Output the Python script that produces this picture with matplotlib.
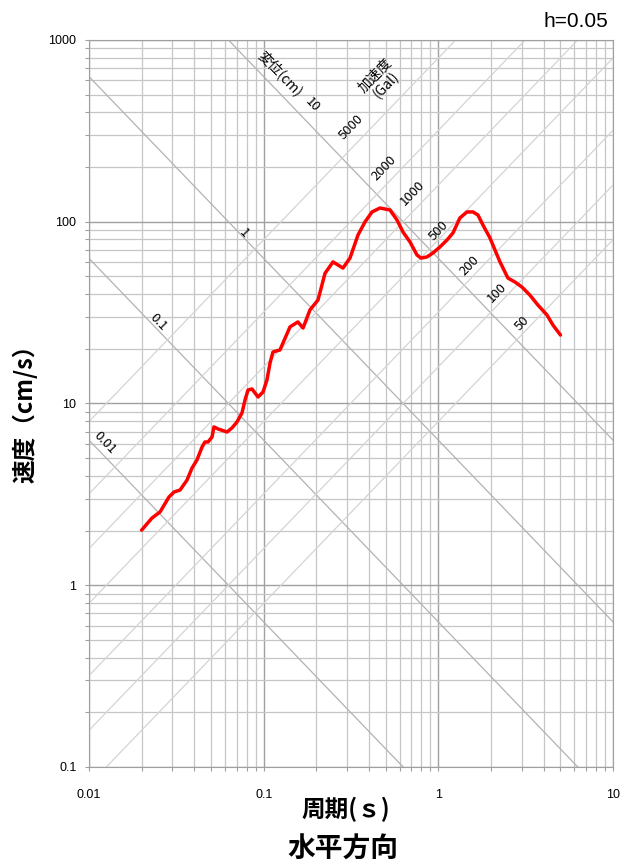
import numpy as np
import matplotlib
matplotlib.use('Agg')
import matplotlib.pyplot as plt
from matplotlib.ticker import NullFormatter

plt.rcParams['font.family'] = ['Noto Sans CJK JP', 'DejaVu Sans']

# velocity response spectrum, h=0.05 (period s, velocity cm/s)
period = [0.020, 0.0229, 0.0255, 0.0287, 0.0307, 0.0332, 0.0364, 0.0389,
          0.0415, 0.0444, 0.0461, 0.048, 0.0506, 0.0519, 0.0548, 0.0617,
          0.0658, 0.0703, 0.0751, 0.0782, 0.0813, 0.0857, 0.0928, 0.0991,
          0.1044, 0.1087, 0.113, 0.1239, 0.1415, 0.157, 0.168, 0.184,
          0.2046, 0.2244, 0.2493, 0.2844, 0.3119, 0.3467, 0.380, 0.417,
          0.4634, 0.5284, 0.5794, 0.6272, 0.688, 0.7544, 0.7947, 0.86,
          0.931, 1.021, 1.12, 1.212, 1.329, 1.458, 1.578, 1.685, 1.80,
          1.975, 2.109, 2.253, 2.405, 2.50, 2.743, 3.01, 3.34, 3.715,
          4.184, 4.53, 5.0]
velocity = [2.01, 2.34, 2.53, 3.06, 3.26, 3.34, 3.79, 4.42,
            4.89, 5.77, 6.14, 6.14, 6.54, 7.43, 7.24, 6.97,
            7.33, 7.91, 8.87, 10.45, 11.86, 12.02, 10.86, 11.56,
            13.47, 16.7, 19.2, 19.7, 26.4, 28.1, 26.0, 32.7,
            37.1, 52.0, 60.1, 55.6, 63.1, 84.5, 99.7, 113.2,
            119.0, 116.0, 102.3, 87.8, 77.4, 65.6, 63.1, 64.0,
            67.3, 72.6, 79.3, 86.7, 104.9, 113.2, 113.2, 108.9, 95.9,
            81.4, 69.9, 60.1, 52.9, 49.0, 46.6, 43.7, 39.5, 34.8,
            30.7, 27.0, 23.8]

# tripartite guide lines
disp_levels = [0.01, 0.1, 1, 10]                       # cm
accel_levels = [50, 100, 200, 500, 1000, 2000, 5000]   # Gal

disp_labels = ['0.01', '0.1', '1', '10']
accel_labels = ['50', '100', '200', '500', '1000', '2000', '5000']

# where the guide-line labels sit (period, velocity)
disp_label_pos = [(0.01235, 6.06), (0.0248, 28.1), (0.0771, 86.7), (0.189, 439)]
accel_label_pos = [(3.01, 27.7), (2.165, 40.5), (1.517, 57.1), (1.008, 88.9),
                   (0.706, 143.9), (0.488, 197.6), (0.316, 332)]

fig = plt.figure(figsize=(6.23, 8.65), dpi=100)
ax = fig.add_axes([0.1429, 0.1133, 0.8411, 0.8405])

t_line = np.array([0.001, 100.0])
for d in disp_levels:
    ax.plot(t_line, 2 * np.pi * d / t_line, color='#b2b2b2', lw=0.9, zorder=2)
for a in accel_levels:
    ax.plot(t_line, a * t_line / (2 * np.pi), color='#d4d4d4', lw=0.9, zorder=2)

ax.plot(period, velocity, color='red', lw=2.5, zorder=5,
        solid_joinstyle='round', solid_capstyle='round')

ax.set_xscale('log')
ax.set_yscale('log')
ax.set_xlim(0.01, 10)
ax.set_ylim(0.1, 1000)

ax.grid(which='major', color='#a0a0a0', lw=1.0, zorder=1)
ax.grid(which='minor', color='#c6c6c6', lw=0.9, zorder=1)

ax.set_xticks([0.01, 0.1, 1, 10], ['0.01', '0.1', '1', '10'])
ax.set_yticks([0.1, 1, 10, 100, 1000], ['0.1', '1', '10', '100', '1000'])
ax.xaxis.set_minor_formatter(NullFormatter())
ax.yaxis.set_minor_formatter(NullFormatter())
ax.tick_params(which='both', length=3, color='#a0a0a0', width=0.8,
               labelsize=9, labelfontfamily='Liberation Sans')
ax.tick_params(axis='x', pad=13)
ax.tick_params(axis='y', pad=6)
for s in ax.spines.values():
    s.set_color('#a0a0a0')

for (t, v), lab in zip(disp_label_pos, disp_labels):
    ax.text(t, v, lab, rotation=-46, ha='center', va='center',
            rotation_mode='anchor', fontsize=9.5)
for (t, v), lab in zip(accel_label_pos, accel_labels):
    ax.text(t, v, lab, rotation=46, ha='center', va='center',
            rotation_mode='anchor', fontsize=9.5)

ax.text(0.124, 658, '変位(cm)', rotation=-46, ha='center', va='center',
        rotation_mode='anchor', fontsize=10)
ax.text(0.469, 602, '加速度\n(Gal)', rotation=46, ha='center', va='center',
        rotation_mode='anchor', fontsize=10, linespacing=1.0)

fig.text(0.976, 0.9746, 'h=0.05', ha='right', va='center', fontsize=15,
         family='Liberation Sans')
fig.text(0.555, 0.064, '周期(ｓ)', ha='center', va='center', fontsize=17,
         fontweight='bold')
fig.text(0.5506, 0.0173, '水平方向', ha='center', va='center', fontsize=20,
         fontweight='bold')
fig.text(0.040, 0.528, '速度（cm/s）', ha='center', va='center', fontsize=17,
         fontweight='bold', rotation=90)

fig.savefig('out.png', dpi=100)
